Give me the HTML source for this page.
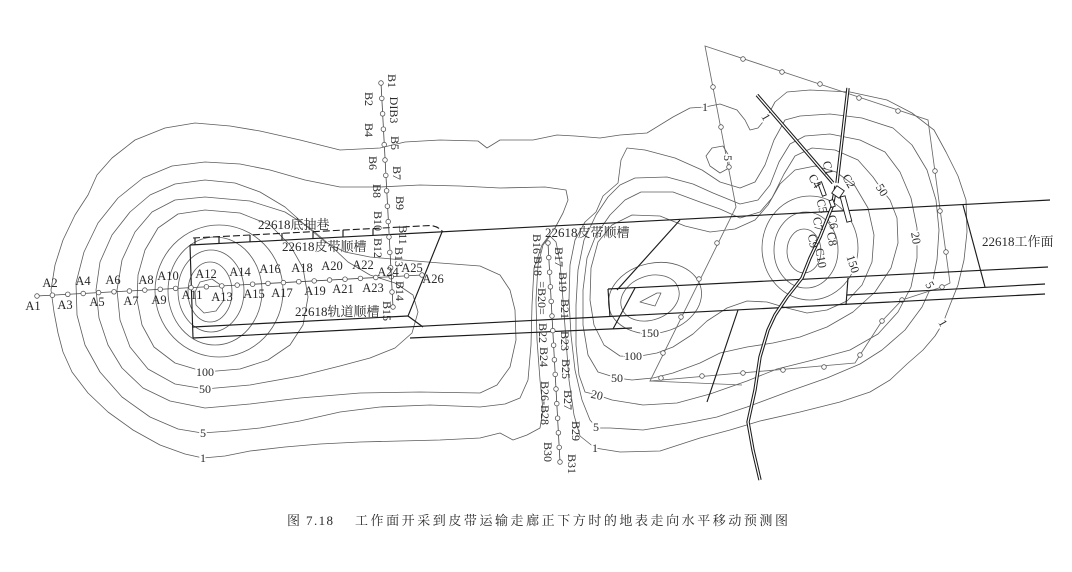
<!DOCTYPE html>
<html><head><meta charset="utf-8"><style>
html,body{margin:0;padding:0;background:#fff;}
svg{display:block;}
.c{fill:none;stroke:#5c5c5c;stroke-width:.8;stroke-linejoin:round;}
.s{fill:none;stroke:#1c1c1c;stroke-width:1.15;}
.p{fill:none;stroke:#6a6a6a;stroke-width:.85;}
.m circle{fill:#fff;stroke:#555;stroke-width:.8;}
text{font-family:"Liberation Serif","Noto Serif CJK SC",serif;fill:#2a2a2a;}
.a{font-size:12.5px;text-anchor:middle;}
.b{font-size:12px;text-anchor:middle;dominant-baseline:central;}
.lb{font-size:12px;text-anchor:middle;dominant-baseline:central;paint-order:stroke;stroke:#fff;stroke-width:3.5px;}
.zh{font-size:13px;}
.cap{font-size:13px;}
</style></head><body>
<svg width="1072" height="572" viewBox="0 0 1072 572" xmlns="http://www.w3.org/2000/svg">
<rect width="1072" height="572" fill="#fff"/>

<!-- ===== contours: left lobe ===== -->
<path class="c" d="M705,107 L690,108 673,117 647,133 620,135 600,138 575,136 557,135 533,140 500,140 487,148 478,141 440,140 405,142 380,148 340,150 300,140 260,131 230,126 195,123 165,128 135,140 112,158 97,175 88,195 75,215 63,240 55,265 51,290 54,312 58,333 63,352 72,372 88,393 108,412 133,430 160,445 185,454 203,458 225,456 250,451 285,447 320,444 360,442 400,441 440,440 480,438 500,433 513,440 527,435 540,428 543,410 540,380 537,340 536,300 538,265 543,245 550,236 556,242 560,262 563,300 566,340 569,380 574,415 580,436 595,448 620,452 660,451 700,438 730,430 760,421 800,412 840,402 870,392 890,380 907,364 923,350 935,336 943,323 950,305 958,285 964,260 967,232 966,200 958,176 946,152 934,130 912,113 887,100 850,92 810,90 787,92 775,102 767,117 758,128 750,130 745,120 737,110 720,104 Z"/>
<path class="c" d="M202,433 L230,431 260,428 300,421 340,412 380,407 430,405 480,407 505,404 520,398 528,380 531,345 532,305 534,268 542,245 555,228 563,213 568,200 566,190 545,187 500,188 460,186 420,185 380,187 340,187 305,180 270,170 240,164 205,162 172,166 143,178 118,198 98,223 84,252 76,283 77,315 85,345 100,372 122,397 150,417 178,429 Z"/>
<path class="c" d="M205,408 L250,404 300,398 360,393 420,392 480,393 497,385 510,367 516,340 515,310 510,290 500,275 480,266 440,263 403,260 370,257 345,252 325,242 305,225 285,207 260,192 235,183 205,180 175,184 150,195 130,212 112,235 100,262 96,290 99,318 108,345 122,368 143,388 170,401 Z"/>
<path class="c" d="M205,389 L250,385 300,376 340,366 370,358 395,348 412,333 418,312 413,295 395,283 370,275 348,262 330,245 310,228 285,212 250,201 205,197 175,200 152,212 135,232 122,260 117,290 120,320 130,347 148,369 175,384 Z"/>
<path class="c" d="M205,372 L240,369 268,360 290,345 303,325 308,297 303,268 290,245 270,225 240,213 205,210 178,214 158,228 145,250 138,275 137,300 142,325 154,347 175,363 Z"/>
<ellipse class="c" cx="219" cy="291" rx="64" ry="66"/>
<ellipse class="c" cx="215" cy="291" rx="47" ry="54"/>
<ellipse class="c" cx="211" cy="291" rx="33" ry="41"/>
<ellipse class="c" cx="210" cy="292" rx="22" ry="30"/>
<path class="c" d="M200,282 L212,279 222,286 224,300 216,311 204,313 196,305 195,292 Z"/>

<!-- ===== contours: right lobe ===== -->
<path class="c" d="M597,428 L610,428 643,430 687,423 717,417 747,407 790,391 827,378 860,364 882,350 905,330 922,307 932,285 937,260 939,230 936,200 927,170 912,145 893,128 862,118 830,114 800,116 785,120 774,140 765,165 755,182 740,188 720,182 702,170 675,158 645,150 627,148 621,160 618,183 603,196 596,212 585,222 575,240 570,265 569,300 571,335 575,370 582,400 590,420 Z"/>
<path class="c" d="M597,395 L612,400 643,405 677,403 710,394 747,381 777,369 813,360 850,350 878,334 898,312 911,287 917,258 917,228 911,198 900,172 885,152 860,140 830,134 805,136 790,144 779,162 770,185 758,200 740,204 713,193 693,184 667,177 635,178 620,185 608,197 596,215 584,240 578,270 576,305 576,345 579,375 585,392 Z"/>
<path class="c" d="M617,378 L632,380 653,378 673,373 700,363 720,353 747,347 773,343 800,337 827,327 853,312 875,292 891,268 898,243 897,218 890,200 882,190 873,177 858,160 835,150 812,148 795,156 784,174 772,198 760,212 740,218 720,209 700,202 673,192 641,192 625,200 610,215 596,235 587,258 583,290 583,325 588,355 598,372 Z"/>
<path class="c" d="M635,357 L657,353 673,347 693,334 707,321 727,308 747,301 767,302 787,308 807,313 827,310 847,301 862,285 872,262 874,235 868,208 855,186 836,172 815,166 795,170 780,184 768,205 755,220 735,229 710,232 685,226 660,216 632,215 612,225 598,242 591,268 590,300 594,325 604,345 620,356 Z"/>
<ellipse class="c" cx="655" cy="298" rx="47" ry="35" transform="rotate(-12 655 298)"/>
<ellipse class="c" cx="650" cy="298" rx="30" ry="22" transform="rotate(-20 650 298)"/>
<path class="c" d="M640,302 L657,293 661,293 655,306 Z"/>
<ellipse class="c" cx="810" cy="248" rx="48" ry="52"/>
<ellipse class="c" cx="806" cy="250" rx="32" ry="38"/>
<ellipse class="c" cx="804" cy="251" rx="17" ry="22"/>
<path class="c" d="M712,148 L723,146 729,156 729,168 720,173 710,166 706,156 Z"/>

<!-- ===== polygon survey line ===== -->
<path class="p" d="M705,46 L928,120 L950,283 L942,287 L902,300 L882,321 L860,355 L855,363 L650,381 L736,207 Z M650,381 L742,385"/>
<g class="m">
<circle cx="743" cy="59" r="2.3"/><circle cx="782" cy="72" r="2.3"/><circle cx="820" cy="84" r="2.3"/><circle cx="859" cy="98" r="2.3"/><circle cx="898" cy="111" r="2.3"/>
<circle cx="935" cy="171" r="2.3"/><circle cx="940" cy="211" r="2.3"/><circle cx="946" cy="252" r="2.3"/>
<circle cx="942" cy="287" r="2.3"/><circle cx="902" cy="300" r="2.3"/><circle cx="882" cy="321" r="2.3"/><circle cx="860" cy="355" r="2.3"/>
<circle cx="824" cy="367" r="2.3"/><circle cx="783" cy="370" r="2.3"/><circle cx="743" cy="373" r="2.3"/><circle cx="702" cy="376" r="2.3"/><circle cx="661" cy="378" r="2.3"/>
<circle cx="663" cy="353" r="2.3"/><circle cx="681" cy="317" r="2.3"/><circle cx="699" cy="279" r="2.3"/><circle cx="717" cy="243" r="2.3"/>
<circle cx="729" cy="167" r="2.3"/><circle cx="721" cy="127" r="2.3"/><circle cx="713" cy="87" r="2.3"/>
</g>

<!-- ===== mine workings ===== -->
<path class="s" d="M190,245 L1050,200"/>
<path class="s" d="M190,245 L193,338"/>
<path class="s" d="M193,327 L408,316"/>
<path class="s" d="M193,338 L1045,294"/>
<path class="s" d="M442,232 L408,316 L423,327"/>
<path class="s" d="M410,338 L632,328"/>
<path class="s" d="M608,289 L1048,267"/>
<path class="s" d="M608,289 L610,317"/>
<path class="s" d="M680,220 L617,290"/>
<path class="s" d="M635,288 L613,329"/>
<path class="s" d="M738,310 L707,402"/>
<path class="s" d="M848,278 L846,305"/>
<path class="s" d="M847,295 L1045,284"/>
<path class="s" d="M963,205 L985,287"/>
<path d="M193,238 L430,225.5 Q438,226 443,232" fill="none" stroke="#1c1c1c" stroke-width="1.1" stroke-dasharray="7,3"/>
<path class="s" stroke-width="1" d="M195,238 V245 M219,237 V244 M250,235 V242 M282,233 V240 M313,232 V238.5 M343,230 V237 M373,229 V235.5"/>

<!-- roads (double lines) -->
<g fill="none" stroke-linejoin="round">
<path d="M757,95 L833,183 M848,88 L837,183 M836,186 L832,207 820,237 810,258 802,278 787,297 775,315 768,330 760,357 755,390 748,422 753,450 760,480" stroke="#1c1c1c" stroke-width="3.4"/>
<path d="M757,95 L833,183 M848,88 L837,183 M836,186 L832,207 820,237 810,258 802,278 787,297 775,315 768,330 760,357 755,390 748,422 753,450 760,480" stroke="#fff" stroke-width="1.3"/>
</g>
<g fill="#fff" stroke="#1c1c1c" stroke-width=".9">
<rect x="833.5" y="187.5" width="9" height="9" transform="rotate(35 838 192)"/>
<rect x="820" y="182" width="4" height="14" transform="rotate(-20 822 189)"/>
<rect x="843.5" y="196" width="5" height="26" transform="rotate(-15 846 209)"/>
<rect x="830" y="200" width="4" height="7" transform="rotate(-20 832 203)"/>
</g>

<!-- ===== A survey line ===== -->
<path d="M37,296 L422,275" stroke="#444" stroke-width=".8" fill="none"/>
<g class="m">
<circle cx="37" cy="296" r="2.3"/><circle cx="52.4" cy="295.2" r="2.3"/><circle cx="67.8" cy="294.3" r="2.3"/><circle cx="83.2" cy="293.5" r="2.3"/><circle cx="98.6" cy="292.6" r="2.3"/><circle cx="114" cy="291.8" r="2.3"/><circle cx="129.4" cy="291" r="2.3"/><circle cx="144.8" cy="290.1" r="2.3"/><circle cx="160.2" cy="289.3" r="2.3"/><circle cx="175.6" cy="288.4" r="2.3"/><circle cx="191" cy="287.6" r="2.3"/><circle cx="206.4" cy="286.8" r="2.3"/><circle cx="221.8" cy="285.9" r="2.3"/><circle cx="237.2" cy="285.1" r="2.3"/><circle cx="252.6" cy="284.2" r="2.3"/><circle cx="268" cy="283.4" r="2.3"/><circle cx="283.4" cy="282.6" r="2.3"/><circle cx="298.8" cy="281.7" r="2.3"/><circle cx="314.2" cy="280.9" r="2.3"/><circle cx="329.6" cy="280" r="2.3"/><circle cx="345" cy="279.2" r="2.3"/><circle cx="360.4" cy="278.4" r="2.3"/><circle cx="375.8" cy="277.5" r="2.3"/><circle cx="391.2" cy="276.7" r="2.3"/><circle cx="406.6" cy="275.8" r="2.3"/><circle cx="422" cy="275" r="2.3"/>
</g>

<!-- ===== B survey lines ===== -->
<path d="M381,83 L393,307 M548,243 L560,462" stroke="#444" stroke-width=".8" fill="none"/>
<g class="m">
<circle cx="381" cy="83" r="2.3"/><circle cx="381.8" cy="98.4" r="2.3"/><circle cx="382.6" cy="113.8" r="2.3"/><circle cx="383.4" cy="129.2" r="2.3"/><circle cx="384.2" cy="144.6" r="2.3"/><circle cx="385" cy="160" r="2.3"/><circle cx="385.8" cy="175.4" r="2.3"/><circle cx="386.6" cy="190.8" r="2.3"/><circle cx="387.4" cy="206.2" r="2.3"/><circle cx="388.2" cy="221.6" r="2.3"/><circle cx="389" cy="237" r="2.3"/><circle cx="389.8" cy="252.4" r="2.3"/><circle cx="390.6" cy="267.8" r="2.3"/><circle cx="392" cy="292" r="2.3"/><circle cx="393" cy="307" r="2.3"/>
<circle cx="548" cy="243" r="2.3"/><circle cx="548.8" cy="257.6" r="2.3"/><circle cx="549.6" cy="272.2" r="2.3"/><circle cx="550.4" cy="286.8" r="2.3"/><circle cx="551.2" cy="301.4" r="2.3"/><circle cx="552" cy="316" r="2.3"/><circle cx="552.8" cy="330.6" r="2.3"/><circle cx="553.6" cy="345.2" r="2.3"/><circle cx="554.4" cy="359.8" r="2.3"/><circle cx="555.2" cy="374.4" r="2.3"/><circle cx="556" cy="389" r="2.3"/><circle cx="556.8" cy="403.6" r="2.3"/><circle cx="557.6" cy="418.2" r="2.3"/><circle cx="558.4" cy="432.8" r="2.3"/><circle cx="559.2" cy="447.4" r="2.3"/><circle cx="560" cy="462" r="2.3"/>
</g>

<!-- ===== A labels ===== -->
<g class="a">
<text x="33" y="310">A1</text><text x="50" y="287">A2</text><text x="65" y="309">A3</text><text x="83" y="285">A4</text><text x="97" y="306">A5</text><text x="113" y="284">A6</text><text x="131" y="305">A7</text><text x="146" y="284">A8</text><text x="159" y="304">A9</text><text x="168" y="280">A10</text><text x="192" y="299">A11</text><text x="206" y="278">A12</text><text x="222" y="301">A13</text><text x="240" y="276">A14</text><text x="254" y="298">A15</text><text x="270" y="273">A16</text><text x="282" y="297">A17</text><text x="302" y="272">A18</text><text x="315" y="295">A19</text><text x="332" y="270">A20</text><text x="343" y="293">A21</text><text x="363" y="269">A22</text><text x="373" y="292">A23</text><text x="388" y="276">A24</text><text x="412" y="272">A25</text><text x="433" y="283">A26</text>
</g>

<!-- ===== B labels (rotated) ===== -->
<g class="b">
<text transform="translate(392,81) rotate(90)">B1</text>
<text transform="translate(369,99) rotate(90)">B2</text>
<text transform="translate(394,110) rotate(90)">DIB3</text>
<text transform="translate(369,130) rotate(90)">B4</text>
<text transform="translate(395,143) rotate(90)">B5</text>
<text transform="translate(373,163) rotate(90)">B6</text>
<text transform="translate(397,173) rotate(90)">B7</text>
<text transform="translate(377,191) rotate(90)">B8</text>
<text transform="translate(400,203) rotate(90)">B9</text>
<text transform="translate(378,221) rotate(90)">B10</text>
<text transform="translate(403,235) rotate(90)">B11</text>
<text transform="translate(378,248) rotate(90)">B12</text>
<text transform="translate(399,257) rotate(90)">B13</text>
<text transform="translate(400,291) rotate(90)">B14</text>
<text transform="translate(387,311) rotate(90)">B15</text>
<text transform="translate(537,244) rotate(90)">B16</text>
<text transform="translate(538,266) rotate(90)">B18</text>
<text transform="translate(542,298) rotate(90)">=B20=</text>
<text transform="translate(543,333) rotate(90)">B22</text>
<text transform="translate(544,357) rotate(90)">B24</text>
<text transform="translate(545,403) rotate(90)">B26-B28</text>
<text transform="translate(548,452) rotate(90)">B30</text>
<text transform="translate(559,257) rotate(90)">B17</text>
<text transform="translate(563,282) rotate(90)">B19</text>
<text transform="translate(565,309) rotate(90)">B21</text>
<text transform="translate(565,341) rotate(90)">B23</text>
<text transform="translate(566,369) rotate(90)">B25</text>
<text transform="translate(568,400) rotate(90)">B27</text>
<text transform="translate(576,431) rotate(90)">B29</text>
<text transform="translate(572,464) rotate(90)">B31</text>
<text transform="translate(828,168) rotate(80)">C1</text>
<text transform="translate(849,181) rotate(60)">C2</text>
<text transform="translate(815,181) rotate(60)">C4</text>
<text transform="translate(822,206) rotate(75)">C5</text>
<text transform="translate(833,222) rotate(80)">C6</text>
<text transform="translate(818,224) rotate(80)">C7</text>
<text transform="translate(832,239) rotate(80)">C8</text>
<text transform="translate(813,241) rotate(80)">C9</text>
<text transform="translate(821,258) rotate(80)">C10</text>
</g>

<!-- ===== contour value labels ===== -->
<g class="lb">
<text x="205" y="372">100</text>
<text x="205" y="389">50</text>
<text x="203" y="433">5</text>
<text x="203" y="458">1</text>
<text x="705" y="107">1</text>
<text transform="translate(766,117) rotate(60)">1</text>
<text transform="translate(728,158) rotate(90)">5</text>
<text transform="translate(882,190) rotate(58)">50</text>
<text transform="translate(916,238) rotate(80)">20</text>
<text transform="translate(853,264) rotate(72)">150</text>
<text transform="translate(930,285) rotate(60)">5</text>
<text transform="translate(943,323) rotate(60)">1</text>
<text x="650" y="333">150</text>
<text x="633" y="356">100</text>
<text x="617" y="378">50</text>
<text transform="translate(597,395) rotate(12)">20</text>
<text x="596" y="427">5</text>
<text x="595" y="448">1</text>
</g>

<!-- ===== Chinese labels ===== -->
<g class="zh">
<text x="258" y="229">22618底抽巷</text>
<text x="282" y="251">22618皮带顺槽</text>
<text x="295" y="316">22618轨道顺槽</text>
<text x="545" y="237">22618皮带顺槽</text>
<text x="982" y="246">22618工作面</text>
</g>

<!-- caption -->
<text class="cap" x="287" y="525" textLength="46" lengthAdjust="spacing">图 7.18</text>
<text class="cap" x="355" y="525" textLength="433" lengthAdjust="spacing">工作面开采到皮带运输走廊正下方时的地表走向水平移动预测图</text>
</svg>
</body></html>
